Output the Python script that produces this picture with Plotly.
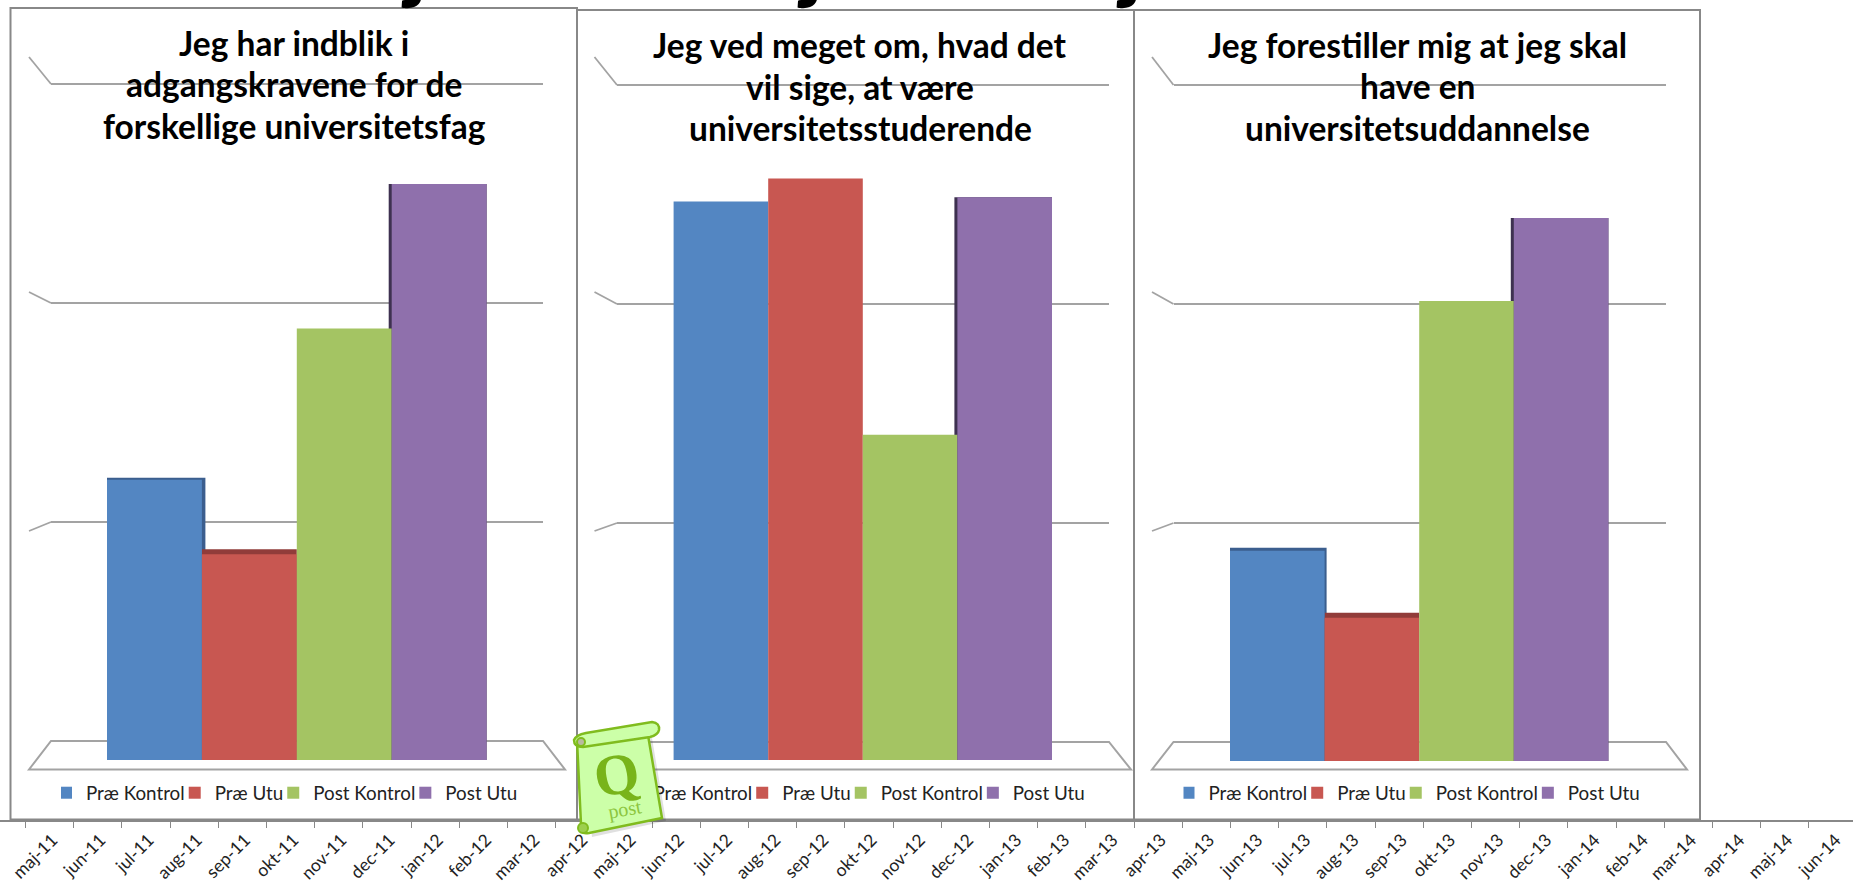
import plotly.graph_objects as go

W, H = 1853, 886

# ---------- data ----------
series_names = ["Præ Kontrol", "Præ Utu", "Post Kontrol", "Post Utu"]
panel1_values = [1.28, 0.94, 1.97, 2.63]
panel2_values = [2.55, 2.655, 1.485, 2.57]
panel3_values = [0.96, 0.654, 2.10, 2.48]
panel1_title = ["Jeg har indblik i", "adgangskravene for de", "forskellige universitetsfag"]
panel2_title = ["Jeg ved meget om, hvad det", "vil sige, at være", "universitetsstuderende"]
panel3_title = ["Jeg forestiller mig at jeg skal", "have en", "universitetsuddannelse"]
month_labels = [
    "apr-11", "maj-11", "jun-11", "jul-11", "aug-11", "sep-11", "okt-11", "nov-11", "dec-11",
    "jan-12", "feb-12", "mar-12", "apr-12", "maj-12", "jun-12", "jul-12", "aug-12", "sep-12",
    "okt-12", "nov-12", "dec-12", "jan-13", "feb-13", "mar-13", "apr-13", "maj-13", "jun-13",
    "jul-13", "aug-13", "sep-13", "okt-13", "nov-13", "dec-13", "jan-14", "feb-14", "mar-14",
    "apr-14", "maj-14", "jun-14",
]

# ---------- style ----------
colors = ["#5386C2", "#C85751", "#A4C463", "#8F70AC"]
dark = ["#3B5E8E", "#913C3A", "#A4C463", "#3E3150"]
GRID = "#A3A3A3"
BORDER = "#888888"
FONT = "Lato"
UNIT = 219.0  # pixels per gridline step

def px(x):
    return x / W

def py(y):
    return 1 - y / H

def pt(x, y):
    return f"{px(x):.5f},{py(y):.5f}"

panels = [
    dict(values=panel1_values, title=panel1_title, cx=294, ty=[43, 84, 126],
         box=(10.5, 8, 577, 819.5), plot=(51, 543), bar0=107, pitch=94.9, base=760, back=741,
         lx=29, front=(29, 565), depth=[2, 5, 0, 0], side=[3.5, 0, 0, -3], legx=61),
    dict(values=panel2_values, title=panel2_title, cx=860, ty=[45, 87, 128],
         box=(577, 10, 1134, 819.5), plot=(617, 1109), bar0=673.6, pitch=94.6, base=760, back=742,
         lx=594.5, front=(596, 1131), depth=[0, 0, 0, 0], side=[0, 0, 0, -3], legx=628.5),
    dict(values=panel3_values, title=panel3_title, cx=1417, ty=[45, 86, 128],
         box=(1134, 10, 1700, 819.5), plot=(1173.5, 1666), bar0=1230, pitch=94.6, base=761, back=742,
         lx=1152, front=(1152, 1687), depth=[3, 5, 0, 0], side=[2, 0, 0, -3], legx=1183.5),
]
diag_left_y = [57, 292, 531]

fig = go.Figure()
layout = dict(
    width=W, height=H, margin=dict(l=0, r=0, t=0, b=0, autoexpand=False), autosize=False,
    paper_bgcolor="white", plot_bgcolor="rgba(0,0,0,0)", barmode="overlay",
    font=dict(family=FONT, color="#222222"), showlegend=True,
)
shapes = []
annotations = []

# panels are painted right to left so that the first one lies on top
for p in reversed(panels):
    x0, y0, x1, y1 = p["box"]
    shapes.append(dict(type="rect", xref="paper", yref="paper", x0=px(x0), x1=px(x1), y0=py(y0), y1=py(y1),
                       fillcolor="white", line=dict(color=BORDER, width=2), layer="below"))

for n, p in enumerate(panels, start=1):
    xn = "" if n == 1 else str(n)
    lx0, lx1 = p["plot"]
    top_px, bot_px = 40, 790
    xr0 = (lx0 - p["bar0"]) / p["pitch"] - 0.5
    xr1 = (lx1 - p["bar0"]) / p["pitch"] - 0.5
    layout[f"xaxis{xn}"] = dict(domain=[px(lx0), px(lx1)], range=[xr0, xr1], visible=False, anchor=f"y{xn}",
                                fixedrange=True, automargin=False)
    layout[f"yaxis{xn}"] = dict(
        domain=[py(bot_px), py(top_px)], range=[(p["base"] - bot_px) / UNIT, (p["base"] - top_px) / UNIT],
        anchor=f"x{xn}", tick0=(p["base"] - p["back"]) / UNIT, dtick=1, showgrid=True, gridcolor=GRID, gridwidth=2,
        zeroline=False, showticklabels=False, ticks="", showline=False, fixedrange=True, automargin=False,
    )
    legend_name = "legend" if n == 1 else f"legend{n}"
    layout[legend_name] = dict(
        orientation="h", x=px(p["legx"]), y=py(793), xanchor="left", yanchor="middle",
        bgcolor="rgba(0,0,0,0)", indentation=-15, font=dict(family=FONT, size=18.8, color="#222222"),
        itemclick=False, itemdoubleclick=False,
    )
    # depth faces of the 3-D columns
    for i, v in enumerate(p["values"]):
        s = p["side"][i] / p["pitch"]
        if p["depth"][i] or p["side"][i]:
            fig.add_trace(go.Bar(x=[i + s / 2], y=[v + p["depth"][i] / UNIT], width=[1 + abs(s)],
                                 marker=dict(color=dark[i], line=dict(width=0)), showlegend=False,
                                 hoverinfo="skip", xaxis=f"x{xn}", yaxis=f"y{xn}"))
    for i, v in enumerate(p["values"]):
        fig.add_trace(go.Bar(x=[i], y=[v], width=[1], name=series_names[i],
                             marker=dict(color=colors[i], line=dict(width=0)),
                             legend=legend_name, xaxis=f"x{xn}", yaxis=f"y{xn}"))
    # side walls and floor
    gy = [p["back"] - UNIT * k for k in (3, 2, 1)]
    for ly, ry in zip(diag_left_y, gy):
        shapes.append(dict(type="line", xref="paper", yref="paper", x0=px(p["lx"]), x1=px(lx0), y0=py(ly), y1=py(ry),
                           line=dict(color=GRID, width=1.8), layer="below"))
    fx0, fx1 = p["front"]
    shapes.append(dict(type="path", xref="paper", yref="paper", layer="below",
                       path=f"M{pt(fx0, 769.5)} L{pt(lx0, p['back'])} L{pt(lx1, p['back'])} L{pt(fx1, 769.5)} Z",
                       line=dict(color=GRID, width=2), fillcolor="rgba(0,0,0,0)"))
    for line, ty in zip(p["title"], p["ty"]):
        annotations.append(dict(text=f"<b>{line}</b>", xref="paper", yref="paper", x=px(p["cx"]), y=py(ty),
                                xanchor="center", yanchor="middle", showarrow=False,
                                font=dict(family=FONT, size=33.5, color="black")))

# month axis along the bottom
fig.add_trace(go.Scatter(x=month_labels, y=[0] * len(month_labels), mode="markers", marker=dict(opacity=0),
                         showlegend=False, hoverinfo="skip", xaxis="x4", yaxis="y4"))
layout["xaxis4"] = dict(
    type="category", categoryorder="array", categoryarray=month_labels,
    domain=[0, 1], range=[24 - 1134 / 48.2, 24 + (W - 1134) / 48.2], anchor="free", position=py(821),
    showgrid=False, zeroline=False, showline=True, linecolor=BORDER, linewidth=2,
    ticks="outside", ticklen=6, tickcolor=BORDER, tickwidth=1, tickangle=-45,
    ticklabelshift=27, ticklabelstandoff=-5, tickfont=dict(family=FONT, size=17.5, color="#222222"),
    tickmode="linear", dtick=1, fixedrange=True, automargin=False,
)
layout["yaxis4"] = dict(domain=[0, 1], visible=False, range=[0, 1], fixedrange=True, automargin=False)
annotations.append(dict(text=month_labels[0], xref="paper", yref="paper", x=px(4), y=py(836), xanchor="right",
                        yanchor="top", showarrow=False, textangle=-45, font=dict(family=FONT, size=17.5, color="#222222")))

# cut-off glyphs of the slide heading above the panels
for cx in (414, 810, 1129):
    annotations.append(dict(text="<b>j</b>", xref="paper", yref="paper", x=px(cx), y=py(-43), xanchor="center",
                            yanchor="middle", showarrow=False, font=dict(family=FONT, size=90, color="black")))

# "Q post" scroll badge
SCROLL_EDGE = "#80BC1E"
SCROLL_FILL = "#CCFFA8"
body = (f"M{pt(577, 741)} L{pt(648, 735)} L{pt(662, 818)} L{pt(589, 833)} "
        f"Q{pt(578, 835)} {pt(581, 824)} Z")
roll = (f"M{pt(586, 733)} L{pt(652, 722)} Q{pt(660, 723)} {pt(659, 730)} Q{pt(658, 735)} {pt(650, 737)} "
        f"L{pt(583, 747)} Q{pt(574, 747)} {pt(574, 740)} Q{pt(576, 735)} {pt(586, 733)} Z")
shadow = f"M{pt(582, 745)} L{pt(652, 738)} L{pt(666, 821)} L{pt(592, 837)} Z"
shapes.append(dict(type="path", xref="paper", yref="paper", path=shadow, line=dict(width=0),
                   fillcolor="rgba(0,0,0,0.12)", layer="above"))
shapes.append(dict(type="path", xref="paper", yref="paper", path=body, line=dict(color=SCROLL_EDGE, width=2.5),
                   fillcolor=SCROLL_FILL, layer="above"))
shapes.append(dict(type="path", xref="paper", yref="paper", path=roll, line=dict(color=SCROLL_EDGE, width=2.5),
                   fillcolor=SCROLL_FILL, layer="above"))
shapes.append(dict(type="circle", xref="paper", yref="paper", x0=px(577), x1=px(585), y0=py(738), y1=py(746),
                   line=dict(color=SCROLL_EDGE, width=2), fillcolor="#B9B9A0", layer="above"))
shapes.append(dict(type="circle", xref="paper", yref="paper", x0=px(578), x1=px(588), y0=py(823), y1=py(833),
                   line=dict(color=SCROLL_EDGE, width=2), fillcolor="#9CCF4E", layer="above"))
annotations.append(dict(text="<b>Q</b>", xref="paper", yref="paper", x=px(616), y=py(774), xanchor="center",
                        yanchor="middle", showarrow=False, textangle=-10,
                        font=dict(family="Liberation Serif", size=58, color="#78B41A")))
annotations.append(dict(text="post", xref="paper", yref="paper", x=px(625), y=py(809), xanchor="center",
                        yanchor="middle", showarrow=False, textangle=-10,
                        font=dict(family="Liberation Serif", size=20, color="#8CC63F")))

layout["shapes"] = shapes
layout["annotations"] = annotations
fig.update_layout(**layout)

# the middle legend lies under the scroll badge; page margin removed
post = """
document.body.style.margin='0';document.body.style.overflow='hidden';
var tops=document.querySelectorAll('.shapelayer');var s=tops[tops.length-1];
var l=document.querySelector('.legend2');if(l&&s){s.parentNode.insertBefore(l,s);}
"""
fig.write_html("out.html", post_script=post, config=dict(displayModeBar=False))
